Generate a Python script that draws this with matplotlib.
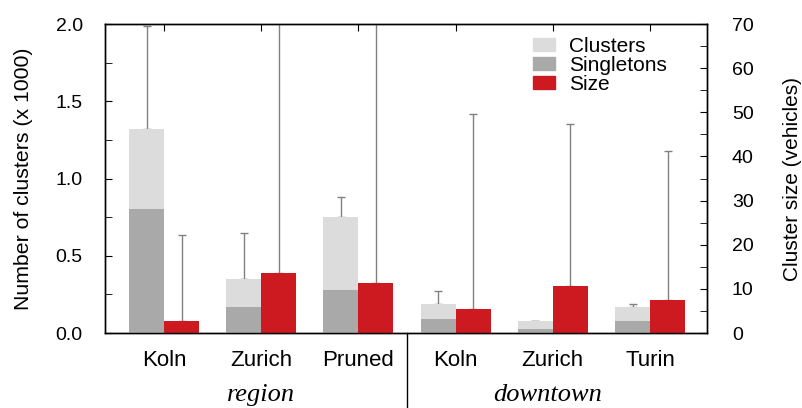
import numpy as np
import matplotlib.pyplot as plt
from matplotlib.transforms import blended_transform_factory
from matplotlib.patches import Patch

plt.rcParams['font.family'] = ['Liberation Sans', 'DejaVu Sans']

# Data
categories = ["Koln", "Zurich", "Pruned", "Koln", "Zurich", "Turin"]
groups = ["region", "downtown"]
clusters = [1.32, 0.35, 0.75, 0.19, 0.076, 0.166]          # x 1000
clusters_err_top = [1.99, 0.65, 0.88, 0.27, 0.08, 0.19]
singletons = [0.80, 0.17, 0.28, 0.089, 0.028, 0.078]
size = [2.7, 13.6, 11.4, 5.5, 10.6, 7.4]                    # vehicles
size_err_top = [22.2, 90.0, 90.0, 49.7, 47.3, 41.2]

light = "#dcdcdc"
dark = "#a9a9a9"
red = "#cc1a20"
err_col = "#808080"

x = np.arange(len(categories))
w = 0.36

fig, ax = plt.subplots(figsize=(8.03, 4.08), dpi=100)
fig.subplots_adjust(left=0.1308, right=0.8804, top=0.941, bottom=0.1838)
ax2 = ax.twinx()

ax.bar(x - w / 2, clusters, w, color=light, zorder=2)
ax.bar(x - w / 2, singletons, w, color=dark, zorder=3)
ax.errorbar(x - w / 2, clusters,
            yerr=[np.zeros(len(x)), np.array(clusters_err_top) - np.array(clusters)],
            fmt='none', ecolor=err_col, elinewidth=1, capsize=3, capthick=1, zorder=1)

ax2.bar(x + w / 2, size, w, color=red, zorder=2)
ax2.errorbar(x + w / 2, size,
             yerr=[np.zeros(len(x)), np.array(size_err_top) - np.array(size)],
             fmt='none', ecolor=err_col, elinewidth=1, capsize=3, capthick=1, zorder=1)

ax.set_xlim(-0.607, 5.586)
ax.set_ylim(0, 2.0)
ax2.set_ylim(0, 70)

ax.set_yticks(np.arange(0, 2.01, 0.5))
ax.set_yticks(np.arange(0, 2.01, 0.25), minor=True)
ax.set_yticklabels(["0.0", "0.5", "1.0", "1.5", "2.0"])
ax2.set_yticks(np.arange(0, 71, 10))
ax2.set_yticks(np.arange(0, 71, 5), minor=True)

ax.set_xticks(x)
ax.set_xticklabels(categories)
ax.tick_params(axis='x', direction='in', length=5, top=True, bottom=False,
               labelsize=16, pad=12)
ax.tick_params(axis='y', which='both', direction='in', length=5, labelsize=14, pad=16)
ax2.tick_params(axis='y', which='both', direction='in', length=5, labelsize=14, pad=18)

ax.set_ylabel("Number of clusters (x 1000)", fontsize=15.3)
ax.yaxis.set_label_coords(-0.12, 0.5)
ax2.set_ylabel("Cluster size (vehicles)", fontsize=15)
ax2.yaxis.set_label_coords(1.126, 0.5)

for a in (ax, ax2):
    for s in a.spines.values():
        s.set_linewidth(1.0)

# separator between groups
trans = blended_transform_factory(ax.transData, ax.transAxes)
ax.plot([2.5, 2.5], [0, -0.26], color="black", lw=1, transform=trans, clip_on=False)
ax.text(1.0, -0.2, groups[0], transform=trans, ha='center', va='center',
        fontsize=19, style='italic', family=['Liberation Serif', 'DejaVu Serif'])
ax.text(3.95, -0.2, groups[1], transform=trans, ha='center', va='center',
        fontsize=19, style='italic', family=['Liberation Serif', 'DejaVu Serif'])

handles = [Patch(color=light, label="Clusters"),
           Patch(color=dark, label="Singletons"),
           Patch(color=red, label="Size")]
ax2.legend(handles=handles, loc='upper left', bbox_to_anchor=(0.711, 0.958),
           frameon=False, fontsize=15, handlelength=1.05, handleheight=0.6,
           labelspacing=0.0, handletextpad=0.7, borderpad=0, borderaxespad=0)

fig.savefig("out.png", dpi=100)
